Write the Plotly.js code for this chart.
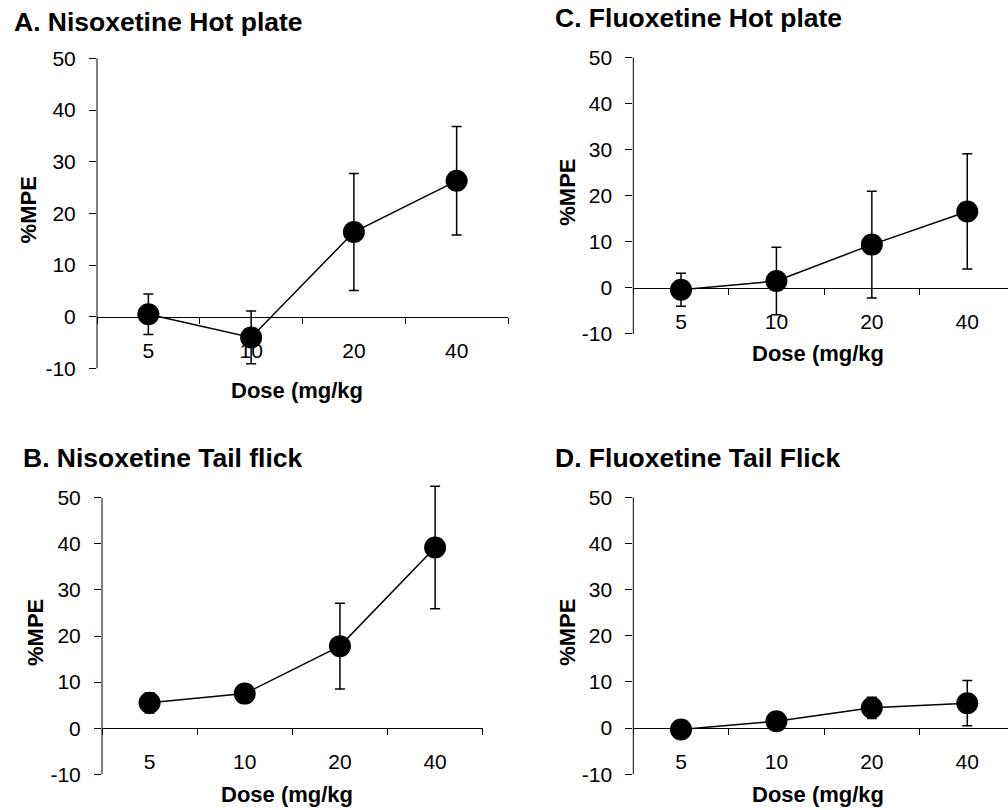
<!DOCTYPE html>
<html>
<head>
<meta charset="utf-8">
<script src="https://cdn.plot.ly/plotly-3.0.1.min.js"></script>
<style>html,body{margin:0;padding:0;background:#fff;overflow:hidden}</style>
</head>
<body>
<div id="chart" style="width:1008px;height:810px"></div>
<script>
// Data
const doses = ['5', '10', '20', '40'];
const titles = ['A. Nisoxetine Hot plate', 'B. Nisoxetine Tail flick', 'C. Fluoxetine Hot plate', 'D. Fluoxetine Tail Flick'];
const nisoxetineHotPlate = [0.5, -4.0, 16.4, 26.3];
const nisoxetineHotPlateErr = [3.9, 5.1, 11.3, 10.5];
const nisoxetineTailFlick = [5.5, 7.5, 17.8, 39.2];
const nisoxetineTailFlickErr = [2.2, 1.2, 9.3, 13.3];
const fluoxetineHotPlate = [-0.4, 1.5, 9.4, 16.6];
const fluoxetineHotPlateErr = [3.6, 7.3, 11.6, 12.5];
const fluoxetineTailFlick = [-0.3, 1.5, 4.4, 5.4];
const fluoxetineTailFlickErr = [0.5, 0.8, 2.3, 4.9];
const yTickValues = [-10, 0, 10, 20, 30, 40, 50];
const yTickLabels = ['-10', '0', '10', '20', '30', '40', '50'];
const yTitle = '%MPE';
const xTitle = 'Dose (mg/kg';

const series = [
  [nisoxetineHotPlate, nisoxetineHotPlateErr],
  [nisoxetineTailFlick, nisoxetineTailFlickErr],
  [fluoxetineHotPlate, fluoxetineHotPlateErr],
  [fluoxetineTailFlick, fluoxetineTailFlickErr]
];

// Layout geometry
const W = 1008, H = 810;
const px = v => v / W;
const py = v => (H - v) / H;
// axis line spans -10..50; range extends a little above so error caps are not clipped
const yAxisMin = -10, yAxisMax = 50, yRangeTop = 55;
const panels = [
  {x0: 97, x1: 508, top: 58.3, bottom: 368.5, xr: [-0.5, 3.5], title: [12, 22], xt: [297, 74], yt: 28},
  {x0: 102, x1: 482.7, top: 497.7, bottom: 774.3, xr: [-0.5, 3.5], title: [21, 458], xt: [287, 66], yt: 35},
  {x0: 633.3, x1: 1008, top: 57.5, bottom: 334, xr: [-0.5, 3.427], title: [553, 18], xt: [818, 66], yt: 568},
  {x0: 633.3, x1: 1008, top: 497.3, bottom: 774.3, xr: [-0.5, 3.427], title: [553, 458], xt: [818, 66], yt: 568}
];
const FONT = 'Liberation Sans, Arial, sans-serif';

const data = [];
const layout = {
  width: W, height: H,
  margin: {l: 0, r: 0, t: 0, b: 0},
  paper_bgcolor: '#fff', plot_bgcolor: 'rgba(0,0,0,0)',
  showlegend: false,
  font: {family: FONT, color: '#000', size: 21},
  annotations: [], shapes: []
};

panels.forEach((p, i) => {
  const n = i + 1;
  const sfx = n === 1 ? '' : String(n);
  const xa = 'x' + sfx, ya = 'y' + sfx;
  const unit = (p.bottom - p.top) / (yAxisMax - yAxisMin);
  const plotTop = p.top - (yRangeTop - yAxisMax) * unit;
  const yd = [py(p.bottom), py(plotTop)];
  data.push({
    type: 'scatter', mode: 'lines+markers',
    x: doses, y: series[i][0],
    xaxis: xa, yaxis: ya,
    line: {color: '#000', width: 1.5},
    marker: {color: '#000', size: 22},
    error_y: {type: 'data', array: series[i][1], visible: true, color: '#000', thickness: 1.5, width: 5},
    cliponaxis: false
  });
  const zeroPx = p.bottom - (0 - yAxisMin) * unit;
  layout['xaxis' + sfx] = {
    domain: [px(p.x0), px(p.x1)], anchor: 'free', position: py(zeroPx),
    type: 'category', range: p.xr,
    showline: true, linecolor: '#000', linewidth: 1,
    ticks: 'outside', tickson: 'boundaries', ticklen: 6, tickcolor: '#000', tickwidth: 1,
    ticklabelstandoff: 15,
    showgrid: false, zeroline: false,
    tickfont: {family: FONT, size: 21, color: '#000'},
    fixedrange: true
  };
  layout['yaxis' + sfx] = {
    domain: yd, anchor: xa,
    range: [yAxisMin, yRangeTop], tickmode: 'array', tickvals: yTickValues, ticktext: yTickLabels,
    showline: false,
    ticks: 'outside', ticklen: 7, tickcolor: '#000', tickwidth: 1,
    ticklabelstandoff: 9,
    showgrid: false, zeroline: false,
    tickfont: {family: FONT, size: 21, color: '#000'},
    fixedrange: true
  };
  // y axis line from -10 to 50
  layout.shapes.push({
    type: 'line', xref: xa + ' domain', yref: ya,
    x0: 0, x1: 0, y0: yAxisMin, y1: yAxisMax,
    line: {color: '#000', width: 1}
  });
  // Panel title
  layout.annotations.push({
    xref: 'paper', yref: 'paper', x: px(p.title[0]), y: py(p.title[1]),
    xanchor: 'left', yanchor: 'middle', showarrow: false,
    text: '<b>' + titles[i] + '</b>', font: {family: FONT, size: 26.5, color: '#000'}
  });
  // Y axis title
  layout.annotations.push({
    xref: 'paper', yref: 'paper', x: px(p.yt), y: py((p.top + p.bottom) / 2 - 3),
    xanchor: 'center', yanchor: 'middle', showarrow: false, textangle: -90,
    text: '<b>' + yTitle + '</b>', font: {family: FONT, size: 22, color: '#000'}
  });
  // X axis title
  layout.annotations.push({
    xref: 'paper', yref: 'paper', x: px(p.xt[0]), y: py(zeroPx + p.xt[1]),
    xanchor: 'center', yanchor: 'middle', showarrow: false,
    text: '<b>' + xTitle + '</b>', font: {family: FONT, size: 22, color: '#000'}
  });
});

Plotly.newPlot('chart', data, layout, {staticPlot: true, displayModeBar: false});
</script>
</body>
</html>
